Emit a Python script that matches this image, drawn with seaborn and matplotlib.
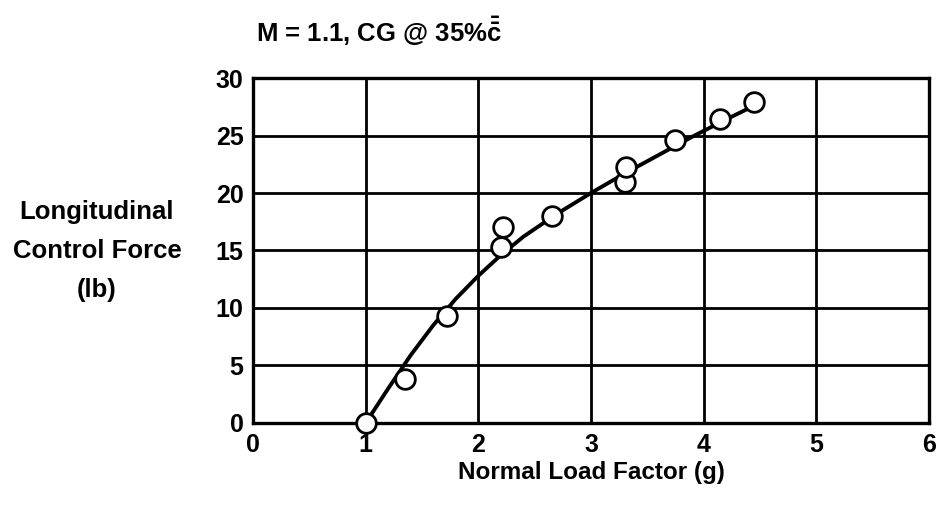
import matplotlib
matplotlib.use("Agg")
import matplotlib.pyplot as plt
import seaborn as sns
import pandas as pd

# Flight test points
load_factor = [1.0, 1.35, 1.72, 2.20, 2.22, 2.65, 3.30, 3.31, 3.75, 4.15, 4.45]
control_force = [0.0, 3.8, 9.3, 15.3, 17.0, 18.0, 21.0, 22.3, 24.6, 26.4, 27.9]

# Faired trend curve
fair_x = [1.0, 1.2, 1.4, 1.6, 1.8, 2.0, 2.2, 2.4, 2.7, 3.0, 3.3, 3.6, 3.9, 4.2, 4.45]
fair_y = [0.0, 3.0, 5.9, 8.5, 10.8, 12.8, 14.6, 16.2, 18.2, 20.0, 21.7, 23.3, 24.9, 26.4, 27.6]

x_ticks = [0, 1, 2, 3, 4, 5, 6]
y_ticks = [0, 5, 10, 15, 20, 25, 30]

sns.set_theme(style="white")
plt.rcParams["font.family"] = ["Liberation Sans", "DejaVu Sans"]
plt.rcParams["font.weight"] = "bold"
plt.rcParams["text.color"] = "black"
plt.rcParams["mathtext.fontset"] = "custom"
plt.rcParams["mathtext.rm"] = "Liberation Sans:bold"
plt.rcParams["mathtext.bf"] = "Liberation Sans:bold"
plt.rcParams["mathtext.it"] = "Liberation Sans:bold"

fig = plt.figure(figsize=(9.41, 5.17), dpi=100)
ax = fig.add_axes([0.269, 0.182, 0.718, 0.667])

pts = pd.DataFrame({"n": load_factor, "F": control_force})
fair = pd.DataFrame({"n": fair_x, "F": fair_y})

sns.lineplot(data=fair, x="n", y="F", ax=ax, color="black", linewidth=2.8,
             sort=False, zorder=3)
sns.scatterplot(data=pts, x="n", y="F", ax=ax, s=200, facecolor="white",
                edgecolor="black", linewidth=2.0, zorder=4, clip_on=False)

ax.set_xlim(0, 6)
ax.set_ylim(0, 30)
ax.set_xticks(x_ticks)
ax.set_yticks(y_ticks)
ax.set_xticklabels([str(v) for v in x_ticks], fontsize=18, fontweight="bold")
ax.set_yticklabels([str(v) for v in y_ticks], fontsize=18, fontweight="bold")
ax.tick_params(axis="both", length=0, pad=7, colors="black")
ax.grid(True, color="black", linewidth=2.0)
ax.set_axisbelow(True)
for s in ax.spines.values():
    s.set_color("black")
    s.set_linewidth(2.4)

ax.set_xlabel("Normal Load Factor (g)", fontsize=17.5, fontweight="bold",
              labelpad=3, color="black")
ax.set_ylabel("")
fig.text(0.103, 0.515, "Longitudinal\nControl Force\n(lb)", ha="center",
         va="center", fontsize=18.5, fontweight="bold", linespacing=1.8)
fig.text(0.272, 0.939, r"M = 1.1, CG @ 35%$\mathbf{\bar{\bar{c}}}$", ha="left",
         va="center", fontsize=18.5, fontweight="bold")

fig.savefig("out.png", dpi=100, facecolor="white")
